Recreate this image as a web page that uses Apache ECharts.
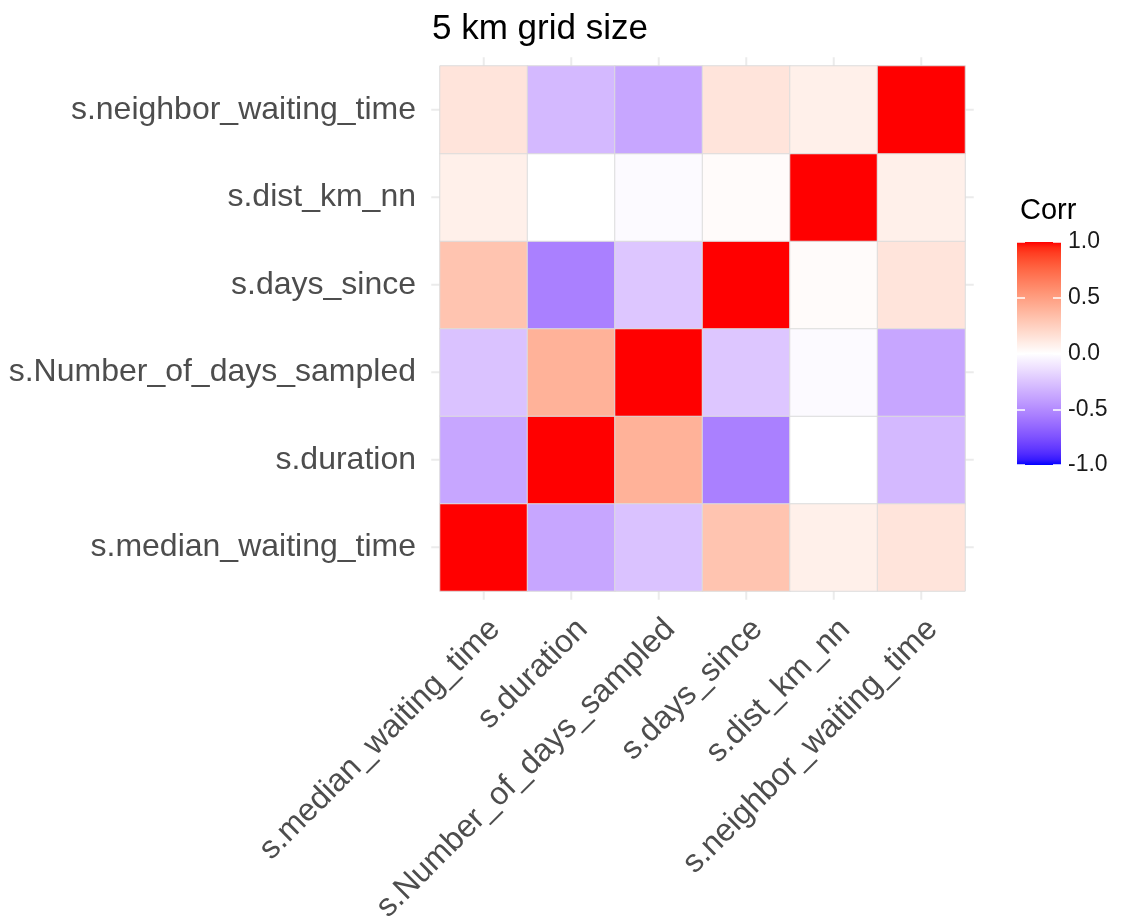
<!DOCTYPE html>
<html><head><meta charset="utf-8">
<script src="https://cdn.jsdelivr.net/npm/echarts@6/dist/echarts.min.js"></script>
<style>html,body{margin:0;padding:0;background:#fff}#c{width:1125px;height:918px}</style>
</head><body><div id="c"></div>
<script>
// ---------- data ----------
const variables = ['s.median_waiting_time','s.duration','s.Number_of_days_sampled','s.days_since','s.dist_km_nn','s.neighbor_waiting_time'];
const corrMedianWaiting   = [ 1.00, -0.38, -0.26,  0.31,  0.08,  0.14];
const corrDuration        = [-0.38,  1.00,  0.40, -0.55,  0.00, -0.30];
const corrDaysSampled     = [-0.26,  0.40,  1.00, -0.24, -0.02, -0.38];
const corrDaysSince       = [ 0.31, -0.55, -0.24,  1.00,  0.02,  0.14];
const corrDistNN          = [ 0.08,  0.00, -0.02,  0.02,  1.00,  0.08];
const corrNeighborWaiting = [ 0.14, -0.30, -0.38,  0.14,  0.08,  1.00];
const legendTicks = [-1.0, -0.5, 0.0, 0.5, 1.0];
const titleText = '5 km grid size';
const legendTitle = 'Corr';

const corrRows = [corrMedianWaiting, corrDuration, corrDaysSampled, corrDaysSince, corrDistNN, corrNeighborWaiting];
const heatData = [];
corrRows.forEach((row, yi) => row.forEach((v, xi) => heatData.push([xi, yi, v])));

// ---------- colour scale (Lab interpolation like ggplot2 gradient2) ----------
function lab2hex(L, a, b) {
  const fy = (L + 16) / 116, fx = fy + a / 500, fz = fy - b / 200;
  const e = 216 / 24389, k = 24389 / 27;
  const finv = t => { const t3 = t * t * t; return t3 > e ? t3 : (116 * t - 16) / k; };
  const X = 0.95047 * finv(fx), Y = L > k * e ? Math.pow(fy, 3) : L / k, Z = 1.08883 * finv(fz);
  const r = 3.2404542 * X - 1.5371385 * Y - 0.4985314 * Z;
  const g = -0.9692660 * X + 1.8760108 * Y + 0.0415560 * Z;
  const bb = 0.0556434 * X - 0.2040259 * Y + 1.0572252 * Z;
  const gam = c => { c = Math.max(0, Math.min(1, c)); return c <= 0.0031308 ? 12.92 * c : 1.055 * Math.pow(c, 1 / 2.4) - 0.055; };
  return '#' + [r, g, bb].map(c => Math.round(gam(c) * 255).toString(16).padStart(2, '0')).join('');
}
const LAB_BLUE = [32.30, 79.19, -107.86], LAB_RED = [53.24, 80.09, 67.20];
function corrColor(v) {
  const t = Math.abs(v), end = v < 0 ? LAB_BLUE : LAB_RED;
  return lab2hex(100 + (end[0] - 100) * t, end[1] * t, end[2] * t);
}
const rampStops = [];
for (let i = 0; i <= 40; i++) rampStops.push(corrColor(-1 + i * 0.05));
const posStops = [], negStops = [];
for (let i = 0; i <= 20; i++) {
  posStops.push({offset: i / 20, color: corrColor(1 - i / 20)});
  negStops.push({offset: i / 20, color: corrColor(-i / 20)});
}

const FONT = "'Liberation Sans', Arial, sans-serif";
const chart = echarts.init(document.getElementById('c'), null, {renderer: 'canvas'});
const option = {
  backgroundColor: '#ffffff',
  animation: false,
  title: [
    {text: titleText, left: 427, top: 7, textStyle: {fontFamily: FONT, fontSize: 35, fontWeight: 'normal', color: '#000'}},
    {text: legendTitle, left: 1015, top: 191, textStyle: {fontFamily: FONT, fontSize: 29, fontWeight: 'normal', color: '#000'}}
  ],
  grid: [
    {left: 440, top: 66, width: 525, height: 525, containLabel: false, outerBoundsMode: 'none'},
    {left: 1017, top: 242, width: 44, height: 223, containLabel: false, outerBoundsMode: 'none'}
  ],
  xAxis: [
    {type: 'category', gridIndex: 0, data: variables, position: 'bottom',
     axisLine: {show: false}, axisTick: {show: false}, splitLine: {show: false},
     axisLabel: {rotate: 45, margin: 22, verticalAlign: 'top', fontFamily: FONT, fontSize: 32, color: '#4D4D4D', interval: 0}},
    {type: 'category', gridIndex: 1, data: [''], show: false}
  ],
  yAxis: [
    {type: 'category', gridIndex: 0, data: variables,
     axisLine: {show: false}, axisTick: {show: false}, splitLine: {show: false},
     axisLabel: {margin: 24, fontFamily: FONT, fontSize: 32, color: '#4D4D4D', interval: 0}},
    {type: 'value', gridIndex: 1, min: -1, max: 1, interval: 0.5, position: 'right', z: 10,
     axisLine: {show: false}, splitLine: {show: false},
     axisTick: {show: true, inside: true, length: 8, lineStyle: {color: '#ffffff', width: 1.5}},
     axisLabel: {margin: 7, fontFamily: FONT, fontSize: 23, color: '#1A1A1A', formatter: v => v.toFixed(1)}},
    {type: 'value', gridIndex: 1, min: -1, max: 1, interval: 0.5, position: 'left', z: 10,
     axisLine: {show: false}, splitLine: {show: false}, axisLabel: {show: false},
     axisTick: {show: true, inside: true, length: 8, lineStyle: {color: '#ffffff', width: 1.5}}}
  ],
  visualMap: {show: false, type: 'continuous', min: -1, max: 1, dimension: 2, seriesIndex: 0, inRange: {color: rampStops}},
  series: [
    {type: 'heatmap', xAxisIndex: 0, yAxisIndex: 0, data: heatData, z: 2,
     itemStyle: {borderColor: '#dcdcdc', borderWidth: 1}, emphasis: {disabled: true}},
    {type: 'bar', xAxisIndex: 1, yAxisIndex: 1, data: [1], barWidth: '100%', barGap: '-100%', z: 2,
     itemStyle: {color: {type: 'linear', x: 0, y: 0, x2: 0, y2: 1, colorStops: posStops}}},
    {type: 'bar', xAxisIndex: 1, yAxisIndex: 1, data: [-1], barWidth: '100%', barGap: '-100%', z: 2,
     itemStyle: {color: {type: 'linear', x: 0, y: 0, x2: 0, y2: 1, colorStops: negStops}}}
  ]
};
chart.setOption(option);

// panel grid lines (theme_minimal) at category centres, extending a little past the tiles
const first = chart.convertToPixel({gridIndex: 0}, [0, 0]);
const last = chart.convertToPixel({gridIndex: 0}, [variables.length - 1, variables.length - 1]);
const step = (last[0] - first[0]) / (variables.length - 1);
const pad = step * 0.6;
const xMin = first[0] - pad, xMax = last[0] + pad, yMin = last[1] - pad, yMax = first[1] + pad;
const lines = [];
variables.forEach((v, i) => {
  const p = chart.convertToPixel({gridIndex: 0}, [i, i]);
  lines.push({type: 'line', z: -1, silent: true, shape: {x1: p[0], y1: yMin, x2: p[0], y2: yMax}, style: {stroke: '#EBEBEB', lineWidth: 2}});
  lines.push({type: 'line', z: -1, silent: true, shape: {x1: xMin, y1: p[1], x2: xMax, y2: p[1]}, style: {stroke: '#EBEBEB', lineWidth: 2}});
});
chart.setOption({graphic: {elements: lines}});
</script>
</body></html>
